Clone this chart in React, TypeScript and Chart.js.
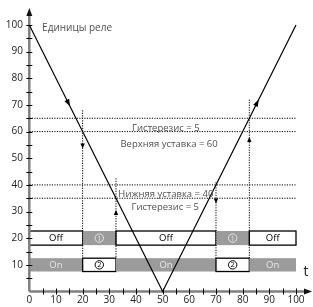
import React, { useEffect, useRef } from 'react';
import { Chart, registerables } from 'chart.js';

Chart.register(...registerables);

// Relay process value (V-shaped trace)
const traceX = [0, 50, 100];
const traceY = [100, 0, 100];

// Threshold levels (upper on/off, lower on/off)
const levelValues = [65, 60, 40, 35];

// Switching moments: x position, top of dotted marker, arrow position and direction
const switchX = [20, 32.5, 70, 82.5];
const switchTop = [68, 42.5, 41, 72];
const switchBottom = [12.5, 12.5, 12.5, 12.5];
const switchArrowY = [53.7, 30.6, 33, 58];
const switchArrowUp = [false, true, false, true];

// Relay state bars
const segmentEdges = [0, 20, 32.5, 70, 82.5, 100];
const relay1Labels = ['Off', '1', 'Off', '1', 'Off'];
const relay1Filled = [false, true, false, true, false];
const relay2Labels = ['On', '2', 'On', '2', 'On'];
const relay2Filled = [true, false, true, false, true];
const relay1Band = [17.4, 22.7];
const relay2Band = [7.5, 12.5];

// Axis ticks
const xTickLabels = [0, 10, 20, 30, 40, 50, 60, 70, 80, 90, 100];
const yTickLabels = [10, 20, 30, 40, 50, 60, 70, 80, 90, 100];
const minorTicks = [5, 10, 15, 20, 25, 30, 35, 40, 45, 50, 55, 60, 65, 70, 75, 80, 85, 90, 95, 100];

// Texts
const unitLabel = 'Единицы реле';
const upperHystLabel = 'Гистерезис = 5';
const upperSetLabel = 'Верхняя уставка = 60';
const lowerSetLabel = 'Нижняя уставка = 40';
const lowerHystLabel = 'Гистерезис = 5';
const timeLabel = 't';

const FONT = '"Open Sans", "Noto Sans", sans-serif';
const GRAY = '#9b9b9b';

function arrowHead(ctx: CanvasRenderingContext2D, x: number, y: number, angle: number, len = 7, half = 2.8, color = '#000') {
  ctx.save();
  ctx.translate(x, y);
  ctx.rotate(angle);
  ctx.beginPath();
  ctx.moveTo(0, 0);
  ctx.lineTo(-len, -half);
  ctx.lineTo(-len, half);
  ctx.closePath();
  ctx.fillStyle = color;
  ctx.fill();
  ctx.restore();
}

const overlay = {
  id: 'overlay',
  beforeDatasetsDraw(chart: any) {
    const { ctx } = chart;
    const xs = chart.scales.x;
    const ys = chart.scales.y;
    ctx.save();
    // state bars
    const rows = [
      { band: relay1Band, labels: relay1Labels, filled: relay1Filled },
      { band: relay2Band, labels: relay2Labels, filled: relay2Filled },
    ];
    rows.forEach((row) => {
      const yTop = ys.getPixelForValue(row.band[1]);
      const yBot = ys.getPixelForValue(row.band[0]);
      const yMid = (yTop + yBot) / 2;
      for (let i = 0; i < segmentEdges.length - 1; i++) {
        const x0 = xs.getPixelForValue(segmentEdges[i]);
        const x1 = xs.getPixelForValue(segmentEdges[i + 1]);
        const xm = (x0 + x1) / 2;
        const filled = row.filled[i];
        const lab = row.labels[i];
        if (filled) {
          ctx.fillStyle = GRAY;
          ctx.fillRect(x0, yTop, x1 - x0, yBot - yTop);
        } else {
          ctx.fillStyle = '#fff';
          ctx.fillRect(x0, yTop, x1 - x0, yBot - yTop);
          ctx.strokeStyle = '#000';
          ctx.lineWidth = 1.3;
          ctx.strokeRect(x0, yTop, x1 - x0, yBot - yTop);
        }
        const col = filled ? '#e6e6e6' : '#000';
        if (lab === '1' || lab === '2') {
          ctx.beginPath();
          ctx.arc(xm, yMid, 4.2, 0, Math.PI * 2);
          ctx.strokeStyle = col;
          ctx.lineWidth = 1;
          ctx.stroke();
          ctx.fillStyle = col;
          ctx.font = `7.5px ${FONT}`;
        } else {
          ctx.fillStyle = col;
          ctx.font = `9.5px ${FONT}`;
        }
        ctx.textAlign = 'center';
        ctx.textBaseline = 'middle';
        ctx.fillText(lab, xm, yMid + 0.5);
      }
    });

    // axes
    const ax = xs.getPixelForValue(0);
    const ay = ys.getPixelForValue(0);
    ctx.strokeStyle = '#808080';
    ctx.lineWidth = 2.5;
    ctx.beginPath();
    ctx.moveTo(ax, ay);
    ctx.lineTo(ax, 13);
    ctx.moveTo(ax, ay);
    ctx.lineTo(307, ay);
    ctx.stroke();
    arrowHead(ctx, ax, 8, -Math.PI / 2, 8, 3, '#111');
    arrowHead(ctx, 312, ay, 0, 8, 3, '#111');

    ctx.strokeStyle = '#000';
    ctx.lineWidth = 1;
    minorTicks.forEach((v) => {
      const py = Math.round(ys.getPixelForValue(v)) + 0.5;
      ctx.beginPath();
      ctx.moveTo(ax - 3, py);
      ctx.lineTo(ax + 3, py);
      ctx.stroke();
      const px = Math.round(xs.getPixelForValue(v)) + 0.5;
      ctx.beginPath();
      ctx.moveTo(px, ay - 3);
      ctx.lineTo(px, ay + 3);
      ctx.stroke();
    });

    ctx.fillStyle = '#222';
    ctx.font = `10px ${FONT}`;
    ctx.textAlign = 'right';
    ctx.textBaseline = 'middle';
    yTickLabels.forEach((v) => {
      ctx.fillText(String(v), 23, ys.getPixelForValue(v));
    });
    ctx.textAlign = 'center';
    xTickLabels.forEach((v) => {
      ctx.fillText(String(v), xs.getPixelForValue(v), 300);
    });
    ctx.restore();
  },
  afterDatasetsDraw(chart: any) {
    const { ctx } = chart;
    const xs = chart.scales.x;
    const ys = chart.scales.y;
    ctx.save();
    // arrows on trace
    const p0 = { x: xs.getPixelForValue(traceX[0]), y: ys.getPixelForValue(traceY[0]) };
    const p1 = { x: xs.getPixelForValue(traceX[1]), y: ys.getPixelForValue(traceY[1]) };
    const p2 = { x: xs.getPixelForValue(traceX[2]), y: ys.getPixelForValue(traceY[2]) };
    const aDown = Math.atan2(p1.y - p0.y, p1.x - p0.x);
    const aUp = Math.atan2(p2.y - p1.y, p2.x - p1.x);
    const yd = 69.5;
    const xd = traceX[0] + ((traceY[0] - yd) / (traceY[0] - traceY[1])) * (traceX[1] - traceX[0]);
    arrowHead(ctx, xs.getPixelForValue(xd), ys.getPixelForValue(yd), aDown, 7, 2.6);
    const yu = 72;
    const xu = traceX[1] + ((yu - traceY[1]) / (traceY[2] - traceY[1])) * (traceX[2] - traceX[1]);
    arrowHead(ctx, xs.getPixelForValue(xu), ys.getPixelForValue(yu), aUp, 7, 2.6);

    // arrows on switching markers
    switchX.forEach((sx, i) => {
      arrowHead(ctx, xs.getPixelForValue(sx), ys.getPixelForValue(switchArrowY[i]), switchArrowUp[i] ? -Math.PI / 2 : Math.PI / 2, 5, 2.2);
    });

    // texts
    ctx.fillStyle = '#505050';
    ctx.textBaseline = 'alphabetic';
    ctx.textAlign = 'left';
    ctx.font = `10px ${FONT}`;
    ctx.fillText(unitLabel, xs.getPixelForValue(4.8), ys.getPixelForValue(97.8));
    ctx.font = `9.5px ${FONT}`;
    ctx.textAlign = 'center';
    ctx.fillText(upperHystLabel, xs.getPixelForValue(51.2), ys.getPixelForValue(60.3));
    ctx.fillText(upperSetLabel, xs.getPixelForValue(52.4), ys.getPixelForValue(54.2));
    ctx.fillText(lowerSetLabel, xs.getPixelForValue(51.2), ys.getPixelForValue(35.3));
    ctx.fillText(lowerHystLabel, xs.getPixelForValue(51), ys.getPixelForValue(30.5));

    ctx.fillStyle = '#222';
    ctx.font = `14px ${FONT}`;
    ctx.textAlign = 'center';
    ctx.textBaseline = 'middle';
    ctx.fillText(timeLabel, 306, 272);
    ctx.restore();
  },
};

export default function App() {
  const ref = useRef<HTMLCanvasElement>(null);
  useEffect(() => {
    document.body.style.margin = '0';
    const canvas = ref.current;
    if (!canvas) return;
    const levelSets = levelValues.map((lv) => ({
      data: [
        { x: 0, y: lv },
        { x: 100, y: lv },
      ],
      borderColor: '#000',
      borderWidth: 1,
      borderDash: [1.2, 1.3],
      pointRadius: 0,
      clip: false as any,
    }));
    const switchSets = switchX.map((sx, i) => ({
      data: [
        { x: sx, y: switchTop[i] },
        { x: sx, y: switchBottom[i] },
      ],
      borderColor: '#000',
      borderWidth: 1,
      borderDash: [1.2, 1.3],
      pointRadius: 0,
      clip: false as any,
    }));
    const chart = new Chart(canvas, {
      type: 'line',
      data: {
        datasets: [
          ...levelSets,
          ...switchSets,
          {
            data: traceX.map((x, i) => ({ x, y: traceY[i] })),
            borderColor: '#000',
            borderWidth: 1.2,
            pointRadius: 0,
            clip: false as any,
          },
        ],
      },
      options: {
        responsive: false,
        animation: false,
        layout: { padding: { left: 29.3, right: 17, top: 25, bottom: 15.5 } },
        plugins: { legend: { display: false }, tooltip: { enabled: false } },
        scales: {
          x: { type: 'linear', min: 0, max: 100, display: false },
          y: { type: 'linear', min: 0, max: 100, display: false },
        },
      },
      plugins: [overlay],
    });
    return () => chart.destroy();
  }, []);
  return <canvas ref={ref} width={313} height={307} style={{ display: 'block' }} />;
}
